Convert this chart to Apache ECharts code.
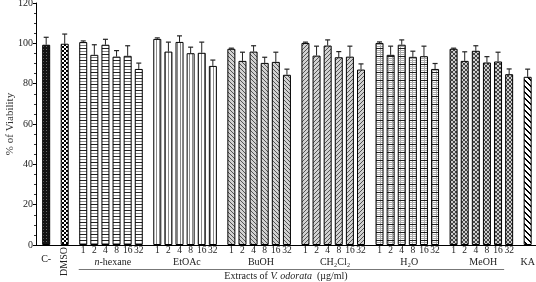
<!DOCTYPE html>
<html>
<head>
<meta charset="utf-8">
<script src="https://cdn.jsdelivr.net/npm/echarts@6/dist/echarts.min.js"></script>
<style>html,body{margin:0;padding:0;background:#fff}#c{width:536px;height:282px}</style>
</head>
<body>
<div id="c"></div>
<script>
// ---- data ----
const controlNames = ['C-', 'DMSO'];
const controlMeans = [99.3, 99.8];
const controlErrs = [3.7, 4.8];
const groupNames = ['n-hexane', 'EtOAc', 'BuOH', 'CH₂Cl₂', 'H₂O', 'MeOH'];
const doses = ['1', '2', '4', '8', '16', '32'];
const hexaneMeans = [100.6, 94.3, 99.3, 93.4, 93.8, 87.3];
const hexaneErrs = [0.6, 5.0, 2.7, 3.0, 5.0, 2.9];
const etoacMeans = [102.2, 95.9, 100.7, 95.1, 95.3, 88.8];
const etoacErrs = [0.5, 4.7, 3.0, 3.0, 5.3, 2.9];
const buohMeans = [97.3, 91.3, 95.9, 90.3, 90.8, 84.4];
const buohErrs = [0.3, 4.3, 2.9, 2.8, 4.8, 2.8];
const ch2cl2Means = [100.2, 93.9, 98.9, 93.1, 93.4, 87.0];
const ch2cl2Errs = [0.4, 4.7, 2.8, 2.8, 5.2, 2.8];
const h2oMeans = [100.2, 94.3, 99.3, 93.3, 93.6, 87.3];
const h2oErrs = [0.5, 4.3, 2.4, 2.8, 5.0, 2.7];
const meohMeans = [97.3, 91.3, 96.3, 90.5, 91.0, 84.7];
const meohErrs = [0.3, 4.5, 2.5, 2.9, 4.6, 2.6];
const kaName = 'KA';
const kaMeans = [83.4];
const kaErrs = [3.8];
const yTicks = [0, 20, 40, 60, 80, 100, 120];

const groupMeans = [hexaneMeans, etoacMeans, buohMeans, ch2cl2Means, h2oMeans, meohMeans];
const groupErrs = [hexaneErrs, etoacErrs, buohErrs, ch2cl2Errs, h2oErrs, meohErrs];

// ---- patterns ----
function pat(w, h, draw) {
  const c = document.createElement('canvas'); c.width = w; c.height = h;
  const g = c.getContext('2d'); draw(g); return { image: c, repeat: 'repeat' };
}
const P = {
  ctrl: pat(3, 3, g => { g.fillStyle = '#141414'; g.fillRect(0,0,3,3); g.fillStyle = '#6a6a6a'; g.fillRect(1,1,1,1); }),
  dmso: pat(4, 4, g => { g.fillStyle = '#fff'; g.fillRect(0,0,4,4); g.fillStyle = '#000'; g.fillRect(0,0,2,2); g.fillRect(2,2,2,2); }),
  hex: pat(4, 6, g => { g.fillStyle = '#fff'; g.fillRect(0,0,4,6); g.fillStyle = '#222'; g.fillRect(0,0,4,1); g.fillStyle = '#888'; g.fillRect(0,3,4,1); }),
  etoac: pat(3, 4, g => { g.fillStyle = '#fff'; g.fillRect(0,0,3,4); g.fillStyle = '#8a8a8a'; g.fillRect(0,0,1,4); }),
  buoh: pat(4, 4, g => { g.fillStyle = '#d2d2d2'; g.fillRect(0,0,4,4); g.fillStyle = '#555'; for (let i=0;i<4;i++) g.fillRect(i,i,1,1); }),
  ch2: pat(4, 4, g => { g.fillStyle = '#d2d2d2'; g.fillRect(0,0,4,4); g.fillStyle = '#555'; for (let i=0;i<4;i++) g.fillRect(3-i,i,1,1); }),
  h2o: pat(4, 8, g => { g.fillStyle = '#fff'; g.fillRect(0,0,4,8); g.fillStyle = '#aaa'; g.fillRect(0,0,1,8); g.fillRect(0,2,4,1); g.fillRect(0,4,4,1); g.fillRect(0,6,4,1); g.fillStyle = '#222'; g.fillRect(0,0,4,1); }),
  meoh: pat(4, 4, g => { g.fillStyle = '#cfcfcf'; g.fillRect(0,0,4,4); g.fillStyle = '#444'; for (let i=0;i<4;i++){ g.fillRect(i,i,1,1); g.fillRect(3-i,i,1,1);} }),
  ka: pat(6, 6, g => { g.fillStyle = '#fff'; g.fillRect(0,0,6,6); g.fillStyle = '#000'; for (let i=0;i<6;i++){ g.fillRect(i,i,2,1); if (i===5) g.fillRect(0,5,1,1);} })
};
const groupPatterns = [P.hex, P.etoac, P.buoh, P.ch2, P.h2o, P.meoh];

// ---- layout of category slots ----
const LEAD = 5, STEP = 6, GAP = 10, TRAIL = 4;
const slots = []; // {idx, mean, err, pattern}
const doseLabel = {}, groupLabel = {}, dmsoLabel = {};
let pos = LEAD;
slots.push({ idx: pos, mean: controlMeans[0], err: controlErrs[0], pattern: P.ctrl });
doseLabel[pos] = '\n{c|' + controlNames[0] + '}';
pos += GAP;
slots.push({ idx: pos, mean: controlMeans[1], err: controlErrs[1], pattern: P.dmso });
dmsoLabel[pos] = controlNames[1];
pos += GAP;
const groupFirst = [], groupLast = [];
groupNames.forEach((gname, gi) => {
  groupFirst.push(pos);
  doses.forEach((d, di) => {
    slots.push({ idx: pos, mean: groupMeans[gi][di], err: groupErrs[gi][di], pattern: groupPatterns[gi] });
    doseLabel[pos] = d;
    if (di < doses.length - 1) pos += STEP;
  });
  groupLast.push(pos);
  groupLabel[Math.round((groupFirst[gi] + pos) / 2) + 1] = gname === 'n-hexane' ? '{i|n}-hexane' : gname;
  pos += GAP;
});
slots.push({ idx: pos, mean: kaMeans[0], err: kaErrs[0], pattern: P.ka });
groupLabel[pos] = kaName;
const total = pos + 1 + TRAIL;
const cats = Array.from({ length: total }, (_, i) => 'c' + i);
const barData = new Array(total).fill('-');
slots.forEach(s => { barData[s.idx] = { value: s.mean, itemStyle: { color: s.pattern } }; });
const errData = slots.map(s => [s.idx, s.mean, s.err]);

const FONT = 'Liberation Serif';
const TXT = '#222';
const chart = echarts.init(document.getElementById('c'));
const baseX = { type: 'category', data: cats, gridIndex: 0, position: 'bottom', axisTick: { show: false } };
chart.setOption({
  animation: false,
  grid: { left: 36, right: 0, top: 3, bottom: 37, containLabel: false, outerBoundsMode: 'none' },
  xAxis: [
    Object.assign({}, baseX, {
      axisLine: { show: true, lineStyle: { color: '#000', width: 1 } },
      axisLabel: { interval: 0, margin: 1, fontFamily: FONT, fontSize: 9.5, lineHeight: 9, color: TXT,
        formatter: (v, i) => doseLabel[i] || '',
        rich: { c: { fontFamily: FONT, fontSize: 10, color: TXT, lineHeight: 9 } } },
      name: 'Extracts of {i|V. odorata}  (µg/ml)', nameLocation: 'middle', nameGap: 26, nameMoveOverlap: false,
      nameTextStyle: { fontFamily: FONT, fontSize: 10, color: TXT,
        rich: { i: { fontFamily: FONT, fontSize: 10, fontStyle: 'italic', color: TXT } } }
    }),
    Object.assign({}, baseX, {
      axisLine: { show: false },
      axisLabel: { interval: 0, margin: 12, fontFamily: FONT, fontSize: 10, color: TXT,
        formatter: (v, i) => groupLabel[i] || '',
        rich: { i: { fontFamily: FONT, fontSize: 10, fontStyle: 'italic', color: TXT } } }
    }),
    Object.assign({}, baseX, {
      axisLine: { show: false },
      axisLabel: { interval: 0, margin: 2, rotate: 90, fontFamily: FONT, fontSize: 10, color: TXT,
        formatter: (v, i) => dmsoLabel[i] || '' }
    })
  ],
  yAxis: {
    type: 'value', min: yTicks[0], max: yTicks[yTicks.length - 1], interval: yTicks[1] - yTicks[0],
    name: '% of Viability', nameLocation: 'middle', nameGap: 20, nameMoveOverlap: false,
    nameTextStyle: { fontFamily: FONT, fontSize: 11, color: '#333' },
    axisLine: { show: true, lineStyle: { color: '#000', width: 1 } },
    axisTick: { show: true, length: 3, lineStyle: { color: '#000' } },
    minorTick: { show: true, splitNumber: 4, length: 2, lineStyle: { color: '#333' } },
    splitLine: { show: false },
    axisLabel: { margin: 3, fontFamily: FONT, fontSize: 10, color: TXT }
  },
  series: [
    { type: 'bar', xAxisIndex: 0, data: barData, barWidth: 8,
      itemStyle: { borderColor: '#000', borderWidth: 1 } },
    { type: 'custom', xAxisIndex: 0, data: errData, z: 5,
      encode: { x: 0, y: 1 },
      renderItem: (params, api) => {
        const i = api.value(0), m = api.value(1), e = api.value(2);
        const p0 = api.coord([i, m]), p1 = api.coord([i, m + e]);
        const x = p0[0];
        return { type: 'group', children: [
          { type: 'line', shape: { x1: x, y1: p0[1], x2: x, y2: p1[1] }, style: { stroke: '#222', lineWidth: 1 } },
          { type: 'line', shape: { x1: x - 2.5, y1: p1[1], x2: x + 2.5, y2: p1[1] }, style: { stroke: '#222', lineWidth: 1.2 } }
        ] };
      } }
  ]
});
const lx1 = chart.convertToPixel({ xAxisIndex: 0 }, groupFirst[0]) - 4.5;
const lx2 = chart.convertToPixel({ xAxisIndex: 0 }, groupLast[groupLast.length - 1]) - 5;
chart.setOption({ graphic: [{ type: 'line', silent: true,
  shape: { x1: lx1, y1: 269.5, x2: lx2, y2: 269.5 }, style: { stroke: '#777', lineWidth: 1 } }] });
</script>
</body>
</html>
